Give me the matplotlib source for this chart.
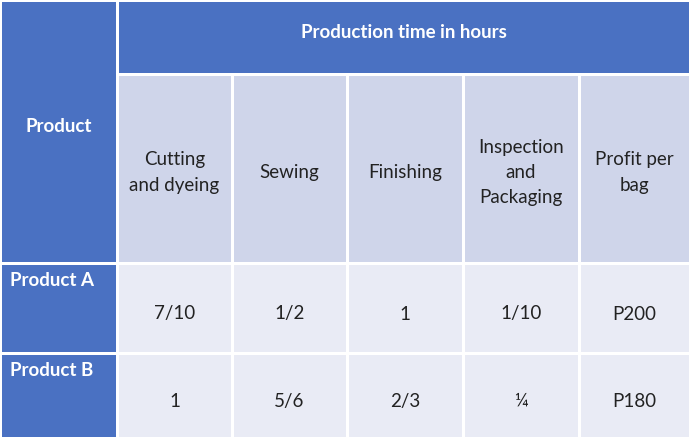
import matplotlib.pyplot as plt
from matplotlib.patches import Rectangle

plt.rcParams['font.family'] = ['Lato', 'DejaVu Sans']

title = "Production time in hours"
corner = "Product"
columns = ["Cutting\nand dyeing", "Sewing", "Finishing", "Inspection\nand\nPackaging", "Profit per\nbag"]
products = ["Product A", "Product B"]
values = [
    ["7/10", "1/2", "1", "1/10", "P200"],
    ["1", "5/6", "2/3", "\u00bc", "P180"],
]

dark = "#4A71C2"
light = "#CFD5EA"
lighter = "#E9EBF5"

# pixel layout
col_x = [0, 117, 232, 347, 463, 579, 690]
row_y = [0, 74, 263, 353, 438]
gap = 1.5
fs = 13.5

fig = plt.figure(figsize=(6.93, 4.42), dpi=100)
ax = fig.add_axes([0, 0, 1, 1])
ax.set_xlim(0, 693)
ax.set_ylim(442, 0)
ax.axis("off")

def cell(x0, x1, y0, y1, color):
    ax.add_patch(Rectangle((x0 + gap, y0 + gap), x1 - x0 - 2 * gap, y1 - y0 - 2 * gap,
                           facecolor=color, edgecolor="none"))

# corner cell
cell(col_x[0], col_x[1], row_y[0], row_y[2], dark)
ax.text(col_x[1] / 2, (row_y[0] + row_y[2]) / 2 - 5, corner, color="white",
        fontsize=fs, fontweight="bold", ha="center", va="center")

# title row
cell(col_x[1], col_x[-1], row_y[0], row_y[1], dark)
ax.text((col_x[1] + col_x[-1]) / 2, (row_y[0] + row_y[1]) / 2 - 4, title, color="white",
        fontsize=fs, fontweight="bold", ha="center", va="center")

# column headers
for j, name in enumerate(columns):
    x0, x1 = col_x[j + 1], col_x[j + 2]
    cell(x0, x1, row_y[1], row_y[2], light)
    ax.text((x0 + x1) / 2, (row_y[1] + row_y[2]) / 2 + 4, name, color="#222222",
            fontsize=fs, ha="center", va="center", linespacing=1.6)

# data rows
for i, prod in enumerate(products):
    y0, y1 = row_y[i + 2], row_y[i + 3]
    cell(col_x[0], col_x[1], y0, y1, dark)
    ax.text(col_x[0] + 10, y0 + 17, prod, color="white", fontsize=fs,
            fontweight="bold", ha="left", va="center")
    for j, v in enumerate(values[i]):
        x0, x1 = col_x[j + 1], col_x[j + 2]
        cell(x0, x1, y0, y1, lighter)
        ax.text((x0 + x1) / 2, (y0 + y1) / 2 + 6, v, color="#222222",
                fontsize=fs, ha="center", va="center")

fig.savefig("out.png", dpi=100, facecolor="white")
